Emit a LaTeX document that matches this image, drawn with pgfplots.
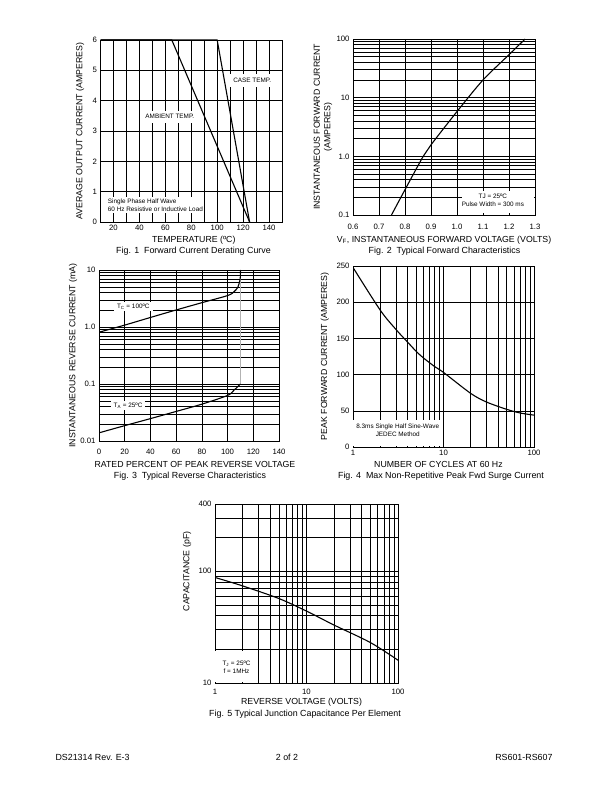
\documentclass[border=0pt]{standalone}
\usepackage{fontspec}
\setmainfont{Liberation Sans}
\usepackage{pgfplots}
\pgfplotsset{compat=1.18}

\newcommand{\tfs}{\fontsize{7.8}{9}\selectfont}
\newcommand{\lfs}{\fontsize{8.8}{10.4}\selectfont}
\newcommand{\cfs}{\fontsize{8.9}{10.5}\selectfont}
\newcommand{\afs}{\fontsize{6.4}{7.6}\selectfont}

\pgfplotsset{
  sheet/.style={
    scale only axis, anchor=south west, clip mode=individual,
    /pgf/number format/assume math mode=true,
    axis line style={black, line width=0.9pt},
    grid=both,
    major grid style={black, line width=0.55pt},
    minor grid style={black, line width=0.55pt},
    tick style={draw=none},
    ticklabel style={font=\tfs},
    every axis x label/.style={at={(axis description cs:0.5,0)}, anchor=center, font=\lfs},
    every axis y label/.style={at={(axis description cs:0,0.5)}, anchor=center, rotate=90, font=\lfs},
  },
  curve/.style={black, line width=1.1pt, no marks},
}
\tikzset{box/.style={fill=white, inner xsep=3bp, inner ysep=2bp, font=\afs, align=center}}

\begin{document}
\begin{tikzpicture}
\fill[white] (0,0) rectangle (612bp,792bp);

% Fig. 1 forward current derating
\begin{axis}[sheet, at={(100.5bp,570bp)}, width=181.5bp, height=182bp,
  xmin=10, xmax=150, ymin=0, ymax=6,
  xtick={20,40,...,140}, minor xtick={10,30,...,150},
  ytick={0,1,...,6},
  xlabel={TEMPERATURE (ºC)},
  ylabel={AVERAGE OUTPUT CURRENT (AMPERES)},
  xlabel style={at={(axis description cs:0.514,-0.099)}},
  ylabel style={at={(axis description cs:-0.113,0.5)}},
]
\addplot[curve] coordinates {(10,6) (65,6) (125,0)};
\addplot[curve] coordinates {(10,6) (100,6) (125,0)};
\fill[white] (axis cs:10.5,0.29) rectangle (axis cs:90,0.83);
\node[font=\afs, align=left, anchor=west] at (axis cs:13,0.56) {Single Phase Half Wave\\60 Hz Resistive or Inductive Load};
\node[box, inner xsep=4bp, inner ysep=4bp] at (axis cs:127,4.66) {CASE TEMP.};
\node[box, inner xsep=4bp, inner ysep=4bp] at (axis cs:63.5,3.47) {AMBIENT TEMP.};
\end{axis}

% Fig. 2 forward characteristics
\begin{axis}[sheet, at={(353bp,577bp)}, width=182bp, height=176bp,
  xmin=0.6, xmax=1.3, ymode=log, ymin=0.1, ymax=100,
  xtick={0.6,0.7,0.8,0.9,1.0,1.1,1.2,1.3},
  xticklabels={0.6,0.7,0.8,0.9,1.0,\raisebox{-2bp}{1.1},\raisebox{-2bp}{1.2},\raisebox{-2bp}{1.3}},
  xticklabel style={yshift=-6bp},
  ytick={0.1,1,10,100}, yticklabels={0.1,1.0,10,100},
  minor ytick={0.2,0.3,0.4,0.5,0.6,0.7,0.8,0.9,2,3,4,5,6,7,8,9,20,30,40,50,60,70,80,90},
  xlabel={V\textsubscript{F}, INSTANTANEOUS FORWARD VOLTAGE (VOLTS)},
  ylabel={INSTANTANEOUS FORWARD CURRENT\\(AMPERES)},
  ylabel style={align=center, at={(axis description cs:-0.165,0.5)}},
  xlabel style={at={(axis description cs:0.5,-0.142)}},
]
\addplot[curve, smooth] coordinates {
  (0.748,0.1) (0.8,0.27) (0.87,1.0) (0.9,1.57) (1.0,5.8) (1.1,20) (1.2,54) (1.262,100)
};
\fill[white] (axis cs:1.02,0.109) rectangle (axis cs:1.297,0.26);
\node[font=\afs, align=center] at (axis cs:1.138,0.18) {TJ = 25ºC\\Pulse Width = 300 ms};
\end{axis}

% Fig. 3 reverse characteristics
\begin{axis}[sheet, at={(99bp,351bp)}, width=180bp, height=171bp,
  xmin=0, xmax=140, ymode=log, ymin=0.01, ymax=10,
  xtick={0,20,...,140},
  xticklabel style={yshift=-5bp},
  ytick={0.01,0.1,1,10}, yticklabels={0.01,0.1,1.0,10},
  minor ytick={0.02,0.03,0.04,0.05,0.06,0.07,0.08,0.09,0.2,0.3,0.4,0.5,0.6,0.7,0.8,0.9,2,3,4,5,6,7,8,9},
  xlabel={RATED PERCENT OF PEAK REVERSE VOLTAGE},
  ylabel={INSTANTANEOUS REVERSE CURRENT (mA)},
  xlabel style={at={(axis description cs:0.533,-0.135)}},
  ylabel style={at={(axis description cs:-0.144,0.5)}},
]
\addplot[gray!60, line width=1.6pt] coordinates {(110,0.1) (110,10)};
\addplot[curve, smooth] coordinates {
  (0,0.81) (20,1.08) (40,1.47) (60,1.99) (80,2.67) (100,3.56) (105,4.15) (108,5.0) (109.5,6.5) (110,8) (110,10)
};
\addplot[curve, smooth] coordinates {
  (0,0.0139) (20,0.0186) (40,0.0247) (60,0.033) (80,0.0443) (100,0.063) (105,0.078) (108,0.09) (110,0.1)
};
\node[box] at (axis cs:26.7,2.27) {T\textsubscript{C} = 100ºC};
\node[box] at (axis cs:22.6,0.042) {T\textsubscript{A} = 25ºC};
\end{axis}

% Fig. 4 surge current
\begin{axis}[sheet, at={(353bp,345bp)}, width=181bp, height=181bp,
  xmode=log, xmin=1, xmax=100, ymin=0, ymax=250,
  xtick={1,10,100}, xticklabels={1,10,100},
  minor xtick={2,3,4,5,6,7,8,9,20,30,40,50,60,70,80,90},
  ytick={0,50,...,250},
  xlabel={NUMBER OF CYCLES AT 60 Hz},
  ylabel={PEAK FORWARD CURRENT (AMPERES)},
  xlabel style={at={(axis description cs:0.472,-0.099)}},
  ylabel style={at={(axis description cs:-0.155,0.5)}},
]
\addplot[curve, smooth] coordinates {
  (1,248) (2,189) (3,162) (4,145) (5,132) (6,123) (8,111) (10,103) (20,74) (30,62) (50,52) (70,47) (100,44)
};
\fill[white] (axis cs:1.01,2) rectangle (axis cs:9.7,37);
\node[font=\afs, align=center] at (axis cs:3.12,23) {8.3ms Single Half Sine-Wave\\JEDEC Method};
\end{axis}

% Fig. 5 junction capacitance
\begin{axis}[sheet, at={(215bp,109bp)}, width=183bp, height=179bp,
  xmode=log, xmin=1, xmax=100, ymode=log, ymin=10, ymax=400,
  xtick={1,10,100}, xticklabels={1,10,100},
  xticklabel style={yshift=-3bp},
  minor xtick={2,3,4,5,6,7,8,9,20,30,40,50,60,70,80,90},
  ytick={10,100,400}, yticklabels={10,100,400},
  minor ytick={20,30,40,50,60,70,80,90,200,300},
  xlabel={REVERSE VOLTAGE (VOLTS)},
  ylabel={CAPACITANCE (pF)},
  xlabel style={at={(axis description cs:0.473,-0.11)}},
  ylabel style={at={(axis description cs:-0.153,0.623)}},
]
\addplot[curve, smooth] coordinates {
  (1,88) (2,74) (5,57) (10,44) (20,33) (50,23) (100,16)
};
\fill[white] (axis cs:1.01,10.3) rectangle (axis cs:2.95,19.5);
\node[font=\afs, align=center] at (axis cs:1.72,13.8) {T\textsubscript{J} = 25ºC\\f = 1MHz};
\end{axis}

% captions and footer
\node[font=\cfs] at (193.5bp,541bp) {Fig. 1\ \ Forward Current Derating Curve};
\node[font=\cfs] at (444.5bp,541bp) {Fig. 2\ \ Typical Forward Characteristics};
\node[font=\cfs] at (190bp,316bp) {Fig. 3\ \ Typical Reverse Characteristics};
\node[font=\cfs] at (441bp,316bp) {Fig. 4\ \ Max Non-Repetitive Peak Fwd Surge Current};
\node[font=\cfs] at (305bp,78bp) {Fig. 5 Typical Junction Capacitance Per Element};
\node[font=\cfs, anchor=west] at (52bp,35bp) {DS21314 Rev. E-3};
\node[font=\cfs] at (287bp,35bp) {2 of 2};
\node[font=\cfs, anchor=east] at (556bp,35bp) {RS601-RS607};
\end{tikzpicture}
\end{document}
